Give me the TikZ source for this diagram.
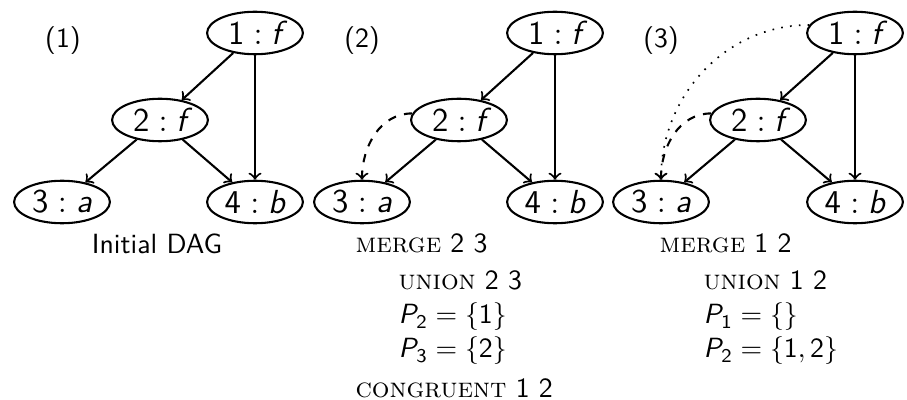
\documentclass[tikz,border=0pt]{standalone}
\usetikzlibrary{shapes.geometric}
\renewcommand{\familydefault}{\sfdefault}
\DeclareMathAlphabet{\mathsfit}{TU}{lmss}{m}{sl}
\newcommand{\smc}[1]{\textrm{\scshape #1}}
\newcommand{\lbl}[2]{$\mathsf{#1}:\mathsfit{#2}$}
\begin{document}
\begin{tikzpicture}[x=0.36pt,y=-0.36pt,
  vtx/.style={draw, ellipse, line width=0.75pt, minimum width=34.5pt, minimum height=15.3pt, inner sep=0pt, font=\large},
  edge/.style={->, line width=0.75pt},
  txt/.style={inner sep=0pt, anchor=base west},
  ctxt/.style={inner sep=0pt, anchor=base}]
\useasboundingbox (0,0) rectangle (907,400);
% panel 1
\node[inner sep=0pt] (p1) at (63,41) {(1)};
\node[vtx] (a1) at (255,33) {\lbl{1}{f}};
\node[vtx] (a2) at (160,120) {\lbl{2}{f}};
\node[vtx] (a3) at (62,202) {\lbl{3}{a}};
\node[vtx] (a4) at (255,202) {\lbl{4}{b}};
\draw[edge] (a1) -- (a2);
\draw[edge] (a1) -- (a4);
\draw[edge] (a2) -- (a3);
\draw[edge] (a2) -- (a4);
\node[ctxt] (t1) at (157,254) {Initial DAG};
% panel 2
\node[inner sep=0pt] (p2) at (362,41) {(2)};
\node[vtx] (b1) at (555,33) {\lbl{1}{f}};
\node[vtx] (b2) at (459,120) {\lbl{2}{f}};
\node[vtx] (b3) at (362,202) {\lbl{3}{a}};
\node[vtx] (b4) at (555,202) {\lbl{4}{b}};
\draw[edge] (b1) -- (b2);
\draw[edge] (b1) -- (b4);
\draw[edge] (b2) -- (b3);
\draw[edge] (b2) -- (b4);
\draw[edge, dashed] (b2.172) to[out=180,in=90] (b3.north);
\node[txt] (m2) at (355,253) {\smc{merge} 2 3};
\node[txt] (u2) at (398,290) {\smc{union} 2 3};
\node[txt] (s2) at (398,324) {$\mathsfit{P}_{\mathsf{2}}=\{\mathsf{1}\}$};
\node[txt] (r2) at (398,358) {$\mathsfit{P}_{\mathsf{3}}=\{\mathsf{2}\}$};
\node[txt] (c2) at (355,397) {\smc{congruent} 1 2};
% panel 3
\node[inner sep=0pt] (p3) at (661,41) {(3)};
\node[vtx] (c1) at (855,33) {\lbl{1}{f}};
\node[vtx] (c2n) at (758,120) {\lbl{2}{f}};
\node[vtx] (c3) at (661,202) {\lbl{3}{a}};
\node[vtx] (c4) at (855,202) {\lbl{4}{b}};
\draw[edge] (c1) -- (c2n);
\draw[edge] (c1) -- (c4);
\draw[edge] (c2n) -- (c3);
\draw[edge] (c2n) -- (c4);
\draw[edge, dashed] (c2n.172) to[out=180,in=90] (c3.north);
\draw[edge, line width=0.6pt, dash pattern=on 0.6pt off 2.6pt] (c1.170) to[out=180,in=90] (c3.north);
\node[txt] (m3) at (659,253) {\smc{merge} 1 2};
\node[txt] (u3) at (703,290) {\smc{union} 1 2};
\node[txt] (s3) at (703,324) {$\mathsfit{P}_{\mathsf{1}}=\{\}$};
\node[txt] (r3) at (703,358) {$\mathsfit{P}_{\mathsf{2}}=\{\mathsf{1},\mathsf{2}\}$};
\end{tikzpicture}
\end{document}
